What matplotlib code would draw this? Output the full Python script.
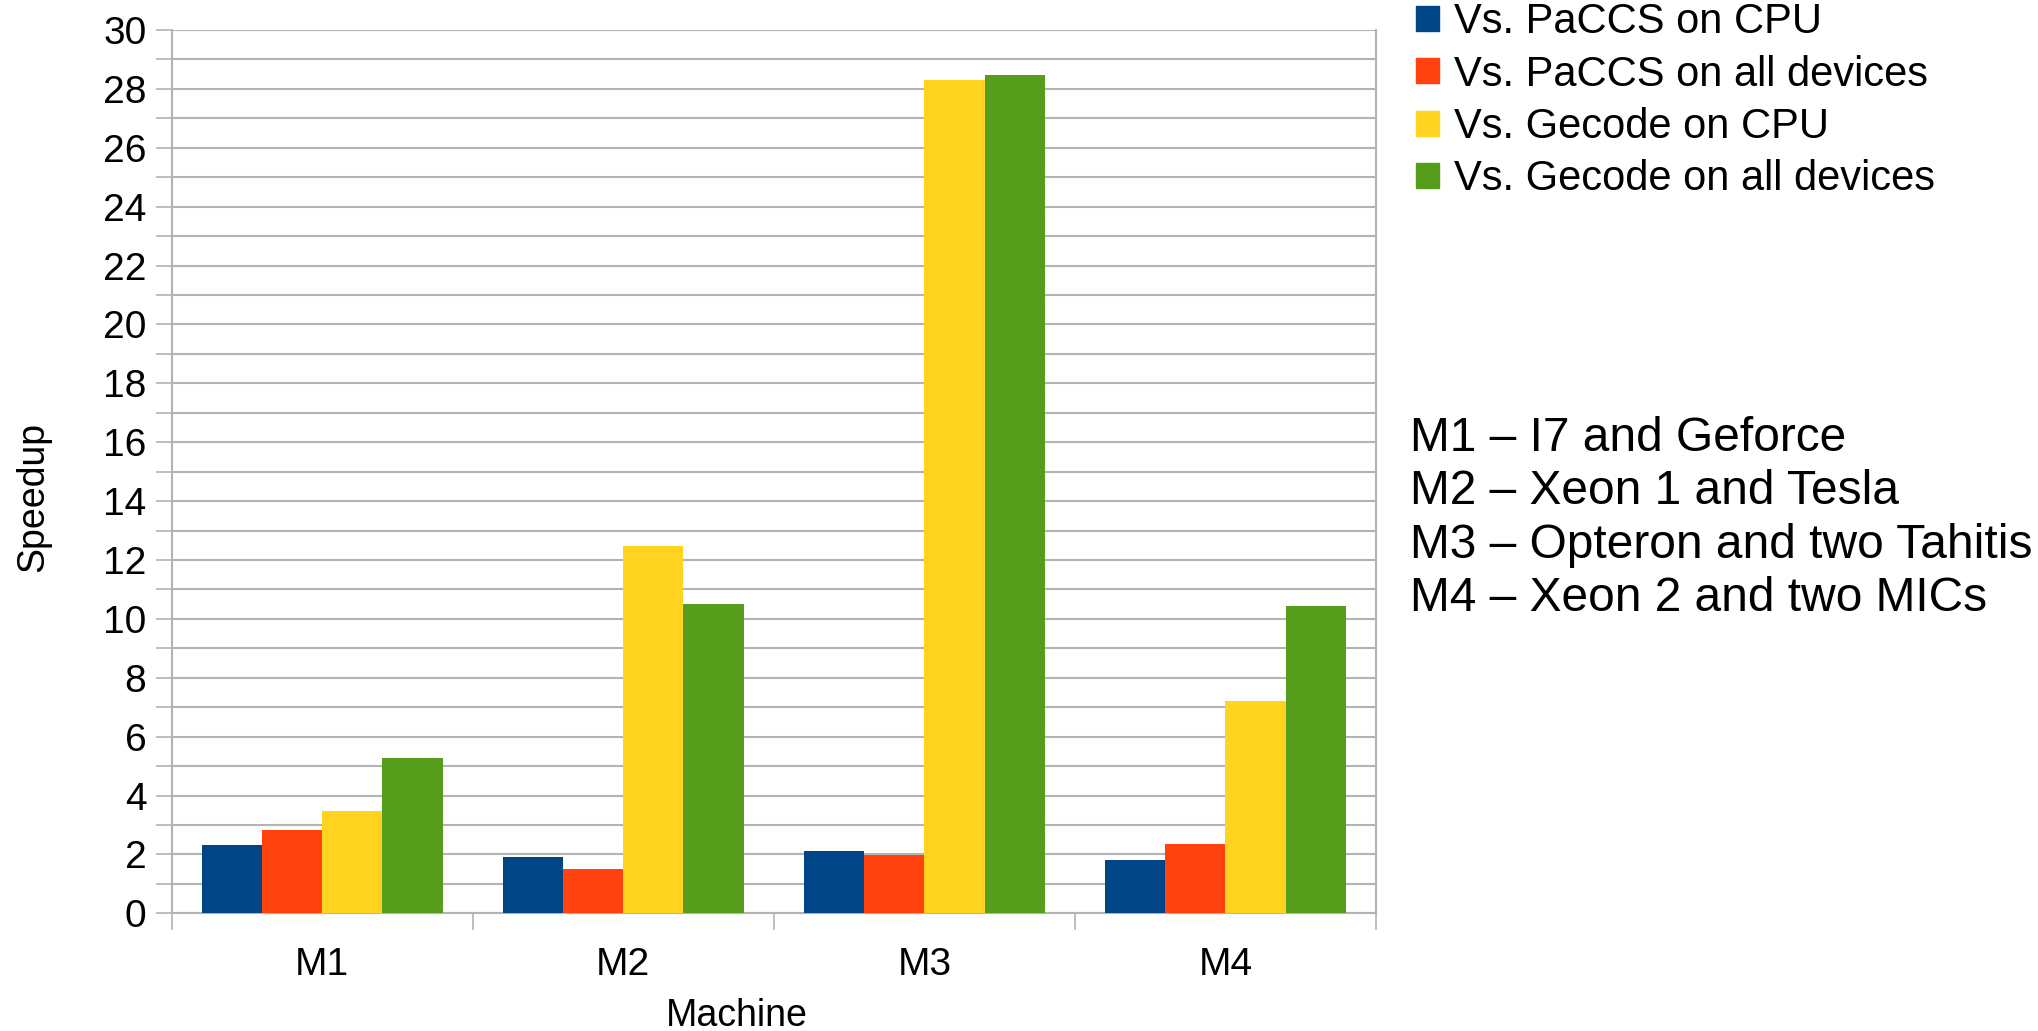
import numpy as np
import matplotlib.pyplot as plt
import matplotlib.patches as mpatches
from matplotlib.ticker import MultipleLocator

plt.rcParams['font.family'] = ['Liberation Sans', 'DejaVu Sans']

machines = ['M1', 'M2', 'M3', 'M4']
paccs_cpu = [2.32, 1.92, 2.12, 1.80]
paccs_all = [2.82, 1.49, 1.99, 2.34]
gecode_cpu = [3.47, 12.47, 28.30, 7.21]
gecode_all = [5.29, 10.50, 28.47, 10.44]
series_names = ['Vs. PaCCS on CPU', 'Vs. PaCCS on all devices',
                'Vs. Gecode on CPU', 'Vs. Gecode on all devices']
colors = ['#004586', '#ff420e', '#ffd320', '#579d1c']
notes = ['M1 – I7 and Geforce', 'M2 – Xeon 1 and Tesla',
         'M3 – Opteron and two Tahitis', 'M4 – Xeon 2 and two MICs']

W, H = 2038, 1031
grey = '#b3b3b3'

fig = plt.figure(figsize=(W/100, H/100), dpi=100)
# plot area in pixels: left 171.6, right 1376, top 30, bottom 913.3
ax = fig.add_axes([171.6/W, 1-913.3/H, (1376-171.6)/W, (913.3-30)/H])

x = np.arange(len(machines))
bw = 0.2
all_series = [paccs_cpu, paccs_all, gecode_cpu, gecode_all]
for k, vals in enumerate(all_series):
    ax.bar(x + (k-1.5)*bw, vals, bw, color=colors[k], zorder=3)

ax.set_xlim(-0.5, 3.5)
ax.set_ylim(0, 30)
ax.set_axisbelow(True)

ax.yaxis.set_major_locator(MultipleLocator(2))
ax.yaxis.set_minor_locator(MultipleLocator(1))
ax.grid(axis='y', which='both', color=grey, linewidth=1.5)
ax.tick_params(axis='y', which='both', length=11.2, width=1.2, color=grey,
               labelsize=28, pad=7)

ax.set_xticks(x)
ax.set_xticklabels(machines)
ax.set_xticks(np.arange(-0.5, 4.0, 1.0), minor=True)
ax.tick_params(axis='x', which='major', length=0, labelsize=28, pad=24)
ax.tick_params(axis='x', which='minor', length=12.2, width=1.2, color=grey)

for s in ['left', 'right', 'bottom']:
    ax.spines[s].set_color(grey)
    ax.spines[s].set_linewidth(1.5)
ax.spines['top'].set_visible(False)

fig.text(33/W, 1-497/H, 'Speedup', rotation=90, fontsize=27,
         ha='center', va='center')
fig.text(737/W, 1-1025.5/H, 'Machine', fontsize=27, ha='center', va='baseline')

handles = [mpatches.Patch(color=c) for c in colors]
fig.legend(handles, series_names, loc='upper left',
           bbox_to_anchor=(1416/W, 1-2/H), frameon=False, fontsize=30,
           borderpad=0, borderaxespad=0, handlelength=0.55, handleheight=0.55,
           handletextpad=0.35, labelspacing=0.30)

baselines = [451, 504.3, 557.6, 611]
for s, b in zip(notes, baselines):
    fig.text(1410/W, 1-b/H, s, fontsize=34.5, va='baseline', ha='left')

fig.savefig('out.png', dpi=100)
